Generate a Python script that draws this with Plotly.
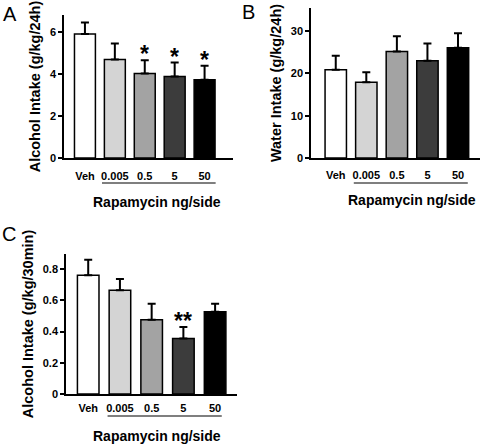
import plotly.graph_objects as go

categories = ["Veh", "0.005", "0.5", "5", "50"]
bar_colors = ["#ffffff", "#d4d4d4", "#a3a3a3", "#3c3c3c", "#000000"]

# Panel A: alcohol intake (g/kg/24h)
a_mean = [5.9, 4.68, 4.02, 3.87, 3.72]
a_sem = [0.54, 0.77, 0.63, 0.67, 0.67]
a_sig = ["", "", "*", "*", "*"]

# Panel B: water intake (g/kg/24h)
b_mean = [20.9, 17.9, 25.2, 23.0, 26.1]
b_sem = [3.3, 2.4, 3.6, 4.1, 3.4]
b_sig = ["", "", "", "", ""]

# Panel C: alcohol intake (g/kg/30min)
c_mean = [0.76, 0.664, 0.476, 0.356, 0.527]
c_sem = [0.10, 0.072, 0.102, 0.073, 0.051]
c_sig = ["", "", "", "**", ""]

y_titles = ["Alcohol Intake (g/kg/24h)", "Water Intake (g/kg/24h)", "Alcohol Intake (g/kg/30min)"]
panel_letters = ["A", "B", "C"]
x_title = "Rapamycin ng/side"

W, H = 480, 445
FONT = "Liberation Sans, Arial, Helvetica, sans-serif"


def px(x):
    return x / W


def py(y):
    return 1 - y / H


panels = [
    dict(mean=a_mean, sem=a_sem, sig=a_sig, x0=64, x1=233, y0=15, y1=158,
         xr=[-0.70, 4.95], yr=[0, 6.8], tv=[0, 2, 4, 6], tt=["0", "2", "4", "6"],
         width=0.70, ul=[0.57, 4.37], ul_y=183, xt=(157, 202), letter=(10, 14), tls=7),
    dict(mean=b_mean, sem=b_sem, sig=b_sig, x0=311, x1=480, y0=8, y1=158,
         xr=[-0.81, 4.72], yr=[0, 35.5], tv=[0, 10, 20, 30], tt=["0", "10", "20", "30"],
         width=0.70, ul=[0.59, 4.32], ul_y=183, xt=(412, 200), letter=(248, 12), tls=6),
    dict(mean=c_mean, sem=c_sem, sig=c_sig, x0=66, x1=237, y0=254, y1=394,
         xr=[-0.70, 4.69], yr=[0, 0.896], tv=[0, 0.2, 0.4, 0.6, 0.8],
         tt=["0", "0.2", "0.4", "0.6", "0.8"],
         width=0.68, ul=[0.61, 4.21], ul_y=416, xt=(157, 436), letter=(9, 234), tls=3),
]

fig = go.Figure()
annotations = []
shapes = []

for i, p in enumerate(panels):
    n = "" if i == 0 else str(i + 1)
    xa, ya = "x" + n, "y" + n
    fig.add_trace(go.Bar(
        x=categories, y=p["mean"], width=p["width"],
        marker=dict(color=bar_colors, line=dict(color="black", width=1.5)),
        error_y=dict(type="data", symmetric=False, array=p["sem"],
                     arrayminus=[0] * len(p["sem"]), color="black",
                     thickness=2, width=4),
        xaxis=xa, yaxis=ya, showlegend=False, hoverinfo="skip",
    ))
    fig.layout["xaxis" + n] = dict(
        domain=[px(p["x0"]), px(p["x1"])], anchor=ya, type="category",
        range=p["xr"], showline=True, linecolor="black", linewidth=1.5,
        ticks="", showgrid=False, zeroline=False, fixedrange=True, automargin=False,
        tickfont=dict(family=FONT, size=11, color="black", weight="bold"),
        ticklabelstandoff=p["tls"],
    )
    fig.layout["yaxis" + n] = dict(
        domain=[py(p["y1"]), py(p["y0"])], anchor=xa,
        range=p["yr"], tickvals=p["tv"], ticktext=p["tt"],
        showline=True, linecolor="black", linewidth=1.5,
        ticks="outside", ticklen=4, tickwidth=1.5, tickcolor="black",
        showgrid=False, zeroline=False, fixedrange=True, automargin=False,
        tickfont=dict(family=FONT, size=11, color="black", weight="bold"),
        title=dict(text=y_titles[i], standoff=6,
                   font=dict(family=FONT, size=14.5, color="black", weight="bold")),
    )
    # significance markers
    for k, (m, s, t) in enumerate(zip(p["mean"], p["sem"], p["sig"])):
        if t:
            annotations.append(dict(
                x=k, y=m + s, xref=xa, yref=ya, text=t, showarrow=False,
                yanchor="bottom", yshift=-9,
                font=dict(family=FONT, size=23, color="black", weight="bold"),
            ))
    # underline of rapamycin doses
    shapes.append(dict(type="line", xref=xa, yref="paper",
                       x0=p["ul"][0], x1=p["ul"][1],
                       y0=py(p["ul_y"]), y1=py(p["ul_y"]),
                       line=dict(color="black", width=1.2)))
    annotations.append(dict(
        x=px(p["xt"][0]), y=py(p["xt"][1]), xref="paper", yref="paper",
        text=x_title, showarrow=False, xanchor="center", yanchor="middle",
        font=dict(family=FONT, size=14, color="black", weight="bold"),
    ))
    annotations.append(dict(
        x=px(p["letter"][0]), y=py(p["letter"][1]), xref="paper", yref="paper",
        text=panel_letters[i], showarrow=False, xanchor="center", yanchor="middle",
        font=dict(family=FONT, size=20, color="black"),
    ))

fig.update_layout(
    template="none",
    width=W, height=H, margin=dict(l=0, r=0, t=0, b=0),
    paper_bgcolor="white", plot_bgcolor="white",
    annotations=annotations, shapes=shapes, bargap=0.3,
)

fig.write_html(
    "out.html",
    config={"displayModeBar": False},
    post_script="document.body.style.margin='0';document.body.style.overflow='hidden';",
)
